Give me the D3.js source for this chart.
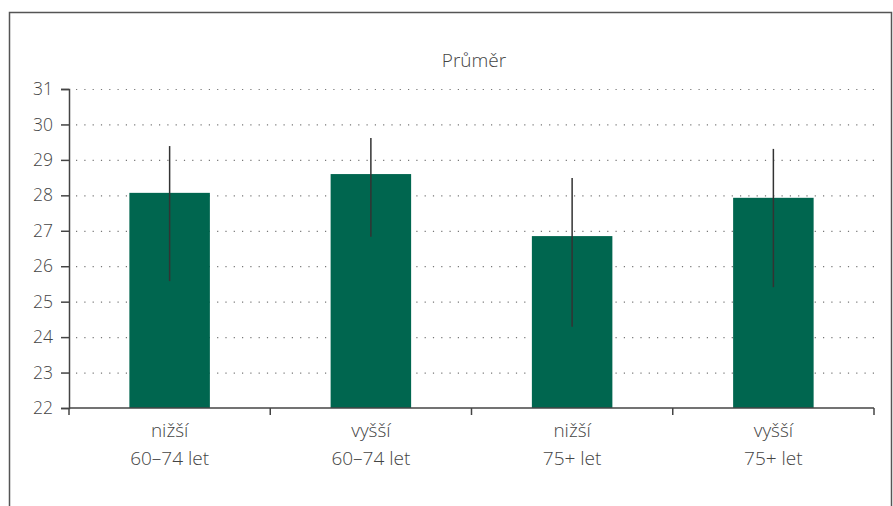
<!DOCTYPE html>
<html><head><meta charset="utf-8">
<script src="https://cdn.jsdelivr.net/npm/d3@7"></script>
<style>body{margin:0;background:#fff}svg{display:block}text{font-family:"Open Sans",sans-serif;font-weight:300}</style>
</head><body><svg id="c" width="893" height="506"></svg>
<script>
const categories = [["nižší","60–74 let"],["vyšší","60–74 let"],["nižší","75+ let"],["vyšší","75+ let"]];
const means = [28.07, 28.6, 26.85, 27.93];
const upper = [29.39, 29.62, 28.49, 29.31];
const lower = [25.58, 26.83, 24.29, 25.41];
const yTicks = [22,23,24,25,26,27,28,29,30,31];
const title = "Průměr";

const svg = d3.select("#c");
const L = 69, R = 874, T = 89, B = 408;
svg.append("rect").attr("x",9.5).attr("y",12.5).attr("width",882).attr("height",520)
  .attr("fill","none").attr("stroke","#555").attr("stroke-width",1.5);

const x = d3.scaleBand().domain(d3.range(categories.length)).range([L,R]).padding(0);
const y = d3.scaleLinear().domain([22,31]).range([B,T]);

// grid
svg.append("g").selectAll("line").data(yTicks.filter(t=>t>22)).join("line")
  .attr("x1",L+7).attr("x2",R).attr("y1",d=>y(d)+0.5).attr("y2",d=>y(d)+0.5)
  .attr("stroke","#777").attr("stroke-width",1.2).attr("stroke-dasharray","1.2,7.1");

// bars
const bw = x.bandwidth()*0.4;
svg.append("g").selectAll("rect").data(means).join("rect")
  .attr("x",(d,i)=>x(i)+x.bandwidth()/2-bw/2).attr("width",bw)
  .attr("y",d=>y(d)).attr("height",d=>B-y(d)).attr("fill","#00664f");

// error bars
svg.append("g").selectAll("line").data(means).join("line")
  .attr("x1",(d,i)=>x(i)+x.bandwidth()/2).attr("x2",(d,i)=>x(i)+x.bandwidth()/2)
  .attr("y1",(d,i)=>y(upper[i])).attr("y2",(d,i)=>y(lower[i]))
  .attr("stroke","#333").attr("stroke-width",1.5);

// y axis
const ya = svg.append("g").attr("transform",`translate(${L},0)`)
  .call(d3.axisLeft(y).tickValues(yTicks).tickSize(8).tickPadding(8));
ya.select(".domain").attr("stroke","#444").attr("stroke-width",1.5);
ya.selectAll(".tick line").attr("stroke","#444").attr("stroke-width",1.5);
ya.selectAll("text").attr("font-size",17.5).attr("fill","#444").attr("font-family","'Open Sans',sans-serif").attr("font-weight",300);

// x axis
const xa = svg.append("g").attr("transform",`translate(0,${B})`);
xa.append("line").attr("x1",L).attr("x2",R).attr("stroke","#444").attr("stroke-width",1.5);
xa.selectAll("line.t").data(d3.range(categories.length+1)).join("line").attr("class","t")
  .attr("x1",i=>L+i*x.step()).attr("x2",i=>L+i*x.step()).attr("y1",0).attr("y2",7)
  .attr("stroke","#444").attr("stroke-width",1.5);
xa.selectAll("text").data(categories).join("text")
  .attr("text-anchor","middle").attr("fill","#444").attr("font-size",19)
  .attr("transform",(d,i)=>`translate(${x(i)+x.bandwidth()/2},0)`)
  .selectAll("tspan").data(d=>d).join("tspan")
  .attr("x",0).attr("y",(d,j)=>29+j*28).text(d=>d);

svg.append("text").attr("x",474).attr("y",67).attr("text-anchor","middle")
  .attr("font-size",19).attr("fill","#444").text(title);
</script></body></html>
